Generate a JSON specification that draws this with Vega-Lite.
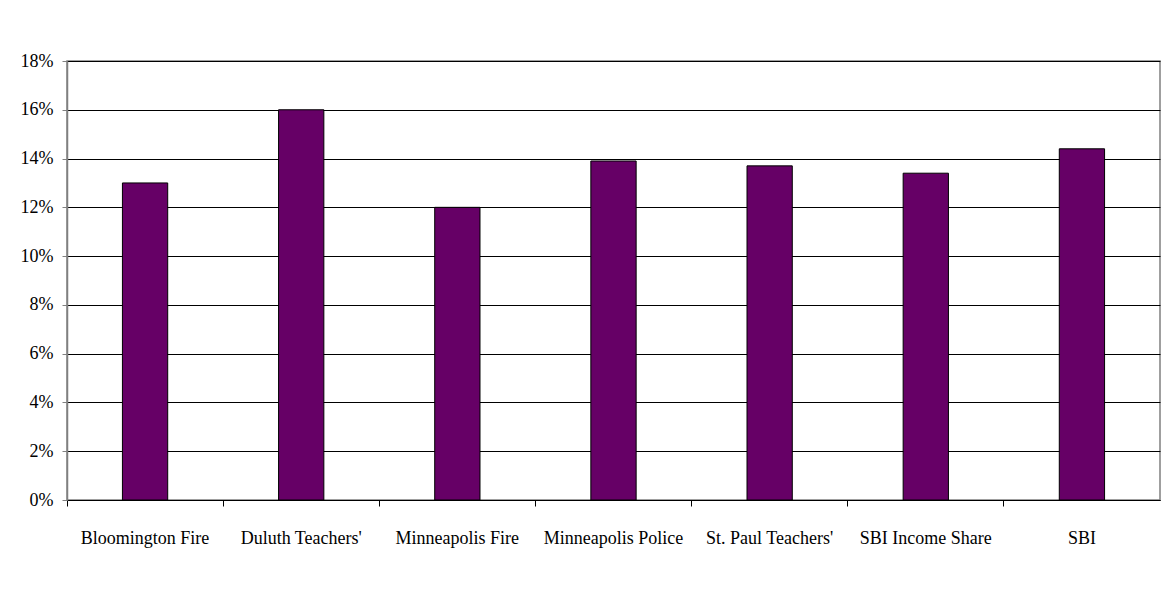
{
  "$schema": "https://vega.github.io/schema/vega-lite/v6.json",
  "autosize": {"type": "none"},
  "padding": {"left": 67, "top": 61, "right": 4, "bottom": 92},
  "width": 1093,
  "height": 439,
  "background": "white",
  "config": {
    "font": "Liberation Serif",
    "view": {"stroke": "#808080", "strokeWidth": 1.5},
    "axis": {"labelFont": "Liberation Serif", "labelFontSize": 18, "labelColor": "black"}
  },
  "data": {
    "values": [
      {"fund": "Bloomington Fire", "value": 0.13},
      {"fund": "Duluth Teachers'", "value": 0.16},
      {"fund": "Minneapolis Fire", "value": 0.12},
      {"fund": "Minneapolis Police", "value": 0.139},
      {"fund": "St. Paul Teachers'", "value": 0.137},
      {"fund": "SBI Income Share", "value": 0.134},
      {"fund": "SBI", "value": 0.144}
    ]
  },
  "layer": [
    {
      "mark": {"type": "bar", "color": "#660066", "stroke": "black", "strokeWidth": 1, "width": {"band": 0.29}},
      "encoding": {
        "x": {
          "field": "fund", "type": "nominal", "sort": null,
          "scale": {"paddingInner": 0, "paddingOuter": 0},
          "axis": {"title": null, "labelAngle": 0, "ticks": false, "domain": true, "domainColor": "black", "domainWidth": 1, "labelPadding": 29, "grid": false, "orient": "bottom"}
        },
        "y": {
          "field": "value", "type": "quantitative",
          "scale": {"domain": [0, 0.18], "nice": false},
          "axis": {"title": null, "format": ".0%", "values": [0, 0.02, 0.04, 0.06, 0.08, 0.1, 0.12, 0.14, 0.16, 0.18], "grid": true, "gridColor": "black", "gridWidth": 1, "gridOpacity": 1, "domainColor": "#808080", "domainWidth": 1.5, "tickColor": "#808080", "tickSize": 5, "labelPadding": 9}
        }
      }
    },
    {
      "mark": {"type": "bar", "opacity": 0, "width": {"band": 0.29}},
      "encoding": {
        "x": {
          "field": "fund", "type": "nominal", "sort": null,
          "axis": {"title": null, "labels": false, "ticks": true, "tickColor": "black", "tickSize": 6, "bandPosition": 0, "domain": false, "grid": false, "orient": "bottom"}
        },
        "y": {"field": "value", "type": "quantitative"}
      }
    }
  ],
  "resolve": {"axis": {"x": "independent"}}
}
